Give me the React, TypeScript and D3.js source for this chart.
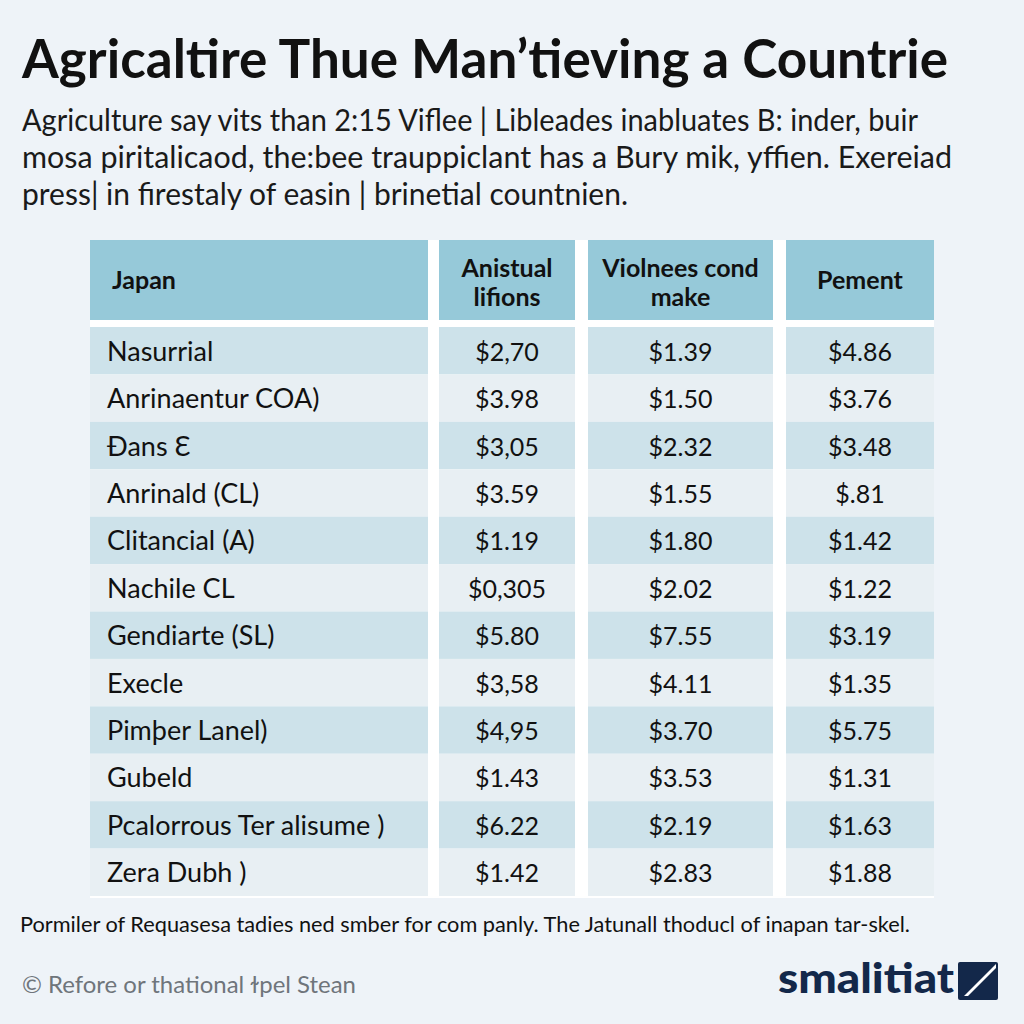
import React from "react";
import * as d3 from "d3";

const titleText = "Agricaltire Thue Man’tieving a Countrie";
const subtitleLines = [
  "Agriculture say vits than 2:15 Viflee | Libleades inabluates B: inder, buir",
  "mosa piritalicaod, the:bee trauppiclant has a Bury mik, yffien. Exereiad",
  "press| in firestaly of easin | brinetial countnien.",
];
const headers = [["Japan"], ["Anistual", "lifions"], ["Violnees cond", "make"], ["Pement"]];
const rowLabels = [
  "Nasurrial",
  "Anrinaentur COA)",
  "Ɖans Ɛ",
  "Anrinald (CL)",
  "Clitancial (A)",
  "Nachile CL",
  "Gendiarte (SL)",
  "Execle",
  "Pimþer Lanel)",
  "Gubeld",
  "Pcalorrous Ter alisume )",
  "Zera Dubh )",
];
const col1Values = ["$2,70", "$3.98", "$3,05", "$3.59", "$1.19", "$0,305", "$5.80", "$3,58", "$4,95", "$1.43", "$6.22", "$1.42"];
const col2Values = ["$1.39", "$1.50", "$2.32", "$1.55", "$1.80", "$2.02", "$7.55", "$4.11", "$3.70", "$3.53", "$2.19", "$2.83"];
const col3Values = ["$4.86", "$3.76", "$3.48", "$.81", "$1.42", "$1.22", "$3.19", "$1.35", "$5.75", "$1.31", "$1.63", "$1.88"];
const footnote = "Pormiler of Requasesa tadies ned smber for com panly.  The Jatunall thoducl of inapan tar-skel.";
const sourceText = "© Refore or thational ɫpel Stean";
const brandText = "smalitiat";

const FONT = "Lato, 'Open Sans', sans-serif";

export default function App() {
  const W = 1024;
  const H = 1024;
  const colEdges: [number, number][] = [
    [90, 428],
    [439, 575],
    [588, 773],
    [786, 934],
  ];
  const y = d3.scaleBand<number>().domain(d3.range(rowLabels.length)).range([327, 896]).padding(0);
  const valueCols = [col1Values, col2Values, col3Values];
  const darkRow = "#cde2ea";
  const lightRow = "#e8eff3";
  const headerFill = "#96c9d9";

  return (
    <svg width={W} height={H} style={{ display: "block", position: "absolute", left: 0, top: 0 }}>
      <rect x={0} y={0} width={W} height={H} fill="#eef3f8" />
      <text x={22} y={78} fontFamily={FONT} fontWeight={700} fontSize={54} fill="#111" textLength={926} lengthAdjust="spacingAndGlyphs">
        {titleText}
      </text>
      {subtitleLines.map((l, i) => (
        <text key={i} x={22} y={131 + i * 37} fontFamily={FONT} fontSize={31} fill="#1a1a1a"
          textLength={[896, 930, 606][i]} lengthAdjust="spacingAndGlyphs">
          {l}
        </text>
      ))}

      {/* table white base */}
      <rect x={colEdges[0][0]} y={240} width={colEdges[3][1] - colEdges[0][0]} height={658} fill="#ffffff" />
      {colEdges.map(([x0, x1], ci) => (
        <g key={ci}>
          <rect x={x0} y={240} width={x1 - x0} height={80} fill={headerFill} />
          {rowLabels.map((_, ri) => (
            <rect key={ri} x={x0} y={y(ri)!} width={x1 - x0} height={y.bandwidth()} fill={ri % 2 === 0 ? darkRow : lightRow} />
          ))}
        </g>
      ))}
      {/* headers */}
      {headers.map((lines, ci) => {
        const [x0, x1] = colEdges[ci];
        const cx = ci === 0 ? 112 : (x0 + x1) / 2;
        const anchor = ci === 0 ? "start" : "middle";
        const startY = lines.length === 1 ? 289 : 277;
        return (
          <text key={ci} x={cx} textAnchor={anchor} fontFamily={FONT} fontWeight={700} fontSize={25} fill="#111">
            {lines.map((ln, li) => (
              <tspan key={li} x={cx} y={startY + li * 29}>{ln}</tspan>
            ))}
          </text>
        );
      })}
      {/* rows */}
      {rowLabels.map((lab, ri) => {
        const cy = y(ri)! + y.bandwidth() / 2 + 10;
        return (
          <g key={ri}>
            <text x={107} y={cy} fontFamily={FONT} fontSize={27} fill="#111">{lab}</text>
            {valueCols.map((vals, vi) => {
              const [x0, x1] = colEdges[vi + 1];
              return (
                <text key={vi} x={(x0 + x1) / 2} y={cy} textAnchor="middle" fontFamily={FONT} fontSize={25} fill="#111">
                  {vals[ri]}
                </text>
              );
            })}
          </g>
        );
      })}

      <text x={20} y={932} fontFamily={FONT} fontSize={21} fill="#111" textLength={890} lengthAdjust="spacingAndGlyphs">
        {footnote}
      </text>
      <text x={22} y={993} fontFamily={FONT} fontSize={24} fill="#6f757b" textLength={334} lengthAdjust="spacingAndGlyphs">
        {sourceText}
      </text>
      <text x={778} y={993} fontFamily={FONT} fontWeight={900} fontSize={41} fill="#13284a" textLength={176} lengthAdjust="spacingAndGlyphs">
        {brandText}
      </text>
      <rect x={958} y={962} width={40} height={38} rx={2} fill="#13284a" />
      <path d="M964,996 L996,964 L996,968 L968,996 Z" fill="#ffffff" />
    </svg>
  );
}
